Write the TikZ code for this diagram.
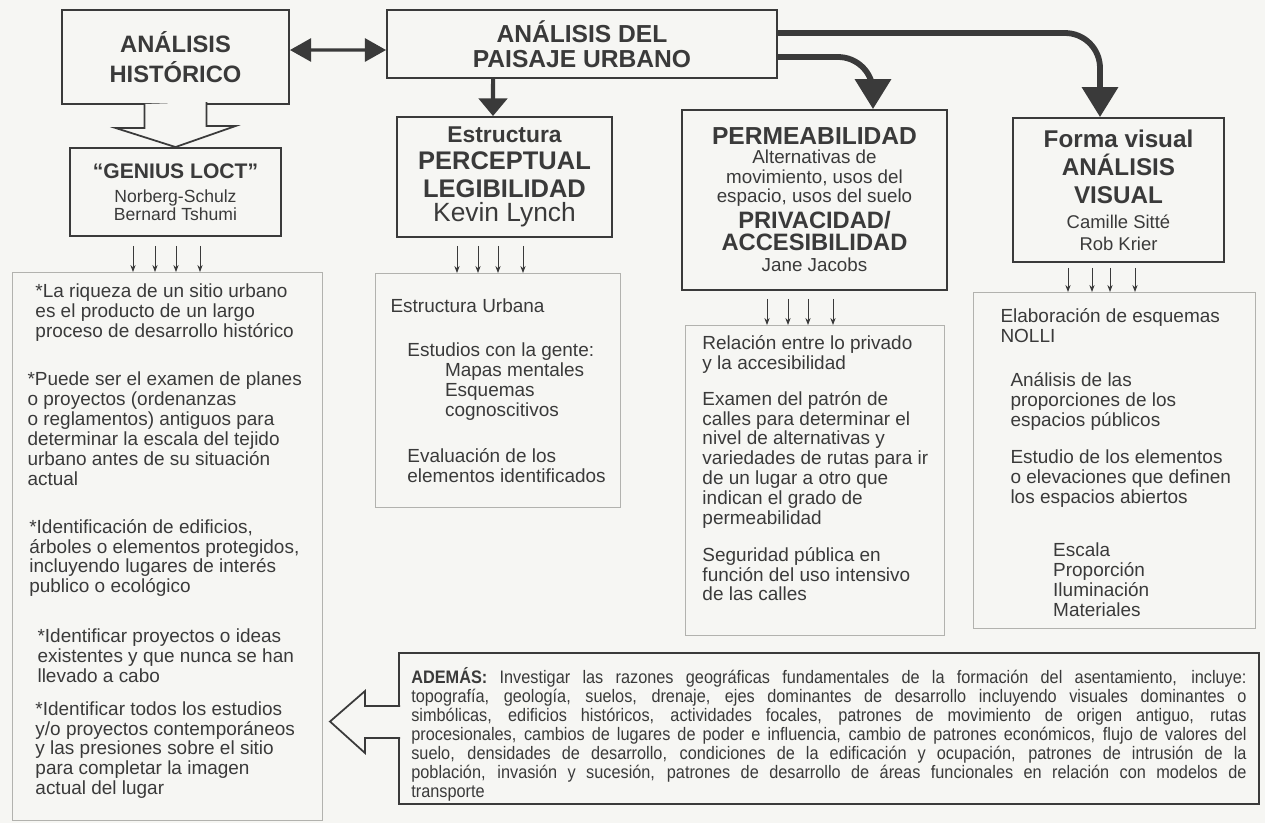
\documentclass[tikz,border=0pt]{standalone}
\usepackage{fontspec}
\setmainfont{Liberation Sans}
\newfontfamily\narrowfont[FakeStretch=0.9]{Liberation Sans}
\usetikzlibrary{arrows.meta}

\definecolor{ink}{HTML}{3A3A3A}
\definecolor{paper}{HTML}{F6F6F3}
\definecolor{faint}{HTML}{B2B2AE}

\newcommand{\detailfont}{\fontsize{10.8}{11.3}\selectfont}
% per line fonts (node lines reset the font at each \\)
\newcommand{\ttl}[1]{\fontsize{#1}{12}\selectfont\bfseries}
\newcommand{\sub}[1]{\fontsize{#1}{12}\selectfont\mdseries}

\begin{document}
\begin{tikzpicture}[x=0.02cm, y=-0.02cm, text=ink,
    smallarrow/.style={-{Stealth[length=4pt,width=3pt]}, draw=ink, line width=0.5pt},
    bigarrow/.style={-{Triangle[length=17pt,width=20pt]}, draw=ink, line width=3.3pt, rounded corners=0.7cm},
    hollowarrow/.style={draw=ink, line width=1pt, fill=paper, line join=miter}]

  \fill[paper] (0,0) rectangle (1265,823);
  \useasboundingbox (0,0) rectangle (1265,823);

  % main boxes
  \begin{scope}[every node/.style={draw=ink, line width=1.1pt, align=center, inner sep=0pt,
      font=\fontsize{10}{12}\selectfont}]
    \node[minimum width=4.54cm, minimum height=1.88cm] (historico) at (175.5,57)
      {\ttl{13.5}ANÁLISIS\\[4pt] \ttl{13.5}HISTÓRICO};
    \node[minimum width=7.8cm, minimum height=1.36cm] (paisaje) at (582,44)
      {\ttl{14}ANÁLISIS DEL\\[2.5pt] \ttl{14}PAISAJE URBANO};
    \node[minimum width=4.22cm, minimum height=1.76cm] (genius) at (175.5,192)
      {\ttl{12}“GENIUS LOCT”\\[2pt] \sub{10}Norberg-Schulz\\[-2pt] \sub{10}Bernard Tshumi};
    \node[minimum width=4.3cm, minimum height=2.4cm] (estructura) at (504.5,177)
      {\ttl{13}Estructura\\[3.3pt] \ttl{14.5}PERCEPTUAL\\[3.9pt] \ttl{14.5}LEGIBILIDAD\\[1.6pt]
       \sub{15}Kevin Lynch};
    \node[minimum width=5.3cm, minimum height=3.6cm] (perm) at (814.5,200)
      {\ttl{14}PERMEABILIDAD\\[-1.2pt] \sub{10.7}Alternativas de\\[-1pt] \sub{10.7}movimiento, usos del\\[-1pt]
       \sub{10.7}espacio, usos del suelo\\[2pt] \ttl{13.5}PRIVACIDAD/\\[0.5pt] \ttl{13.5}ACCESIBILIDAD\\
       \sub{10.7}Jane Jacobs};
    \node[minimum width=4.22cm, minimum height=2.88cm] (forma) at (1118.5,190)
      {\ttl{13.8}Forma visual\\[2.7pt] \ttl{13.8}ANÁLISIS\\[3.9pt] \ttl{13.8}VISUAL\\[2.2pt]
       \sub{10.5}Camille Sitté\\[0.5pt] \sub{10.5}Rob Krier};
  \end{scope}

  % detail boxes
  \begin{scope}[every node/.style={draw=faint, line width=0.7pt, anchor=north west, inner sep=0pt, font=\detailfont}]
    \node (histdet) at (12,272) {\parbox[c][10.96cm][t]{6.2cm}{\vspace*{6.2pt}\hspace*{8.5pt}%
      \begin{tabular}[t]{@{}l@{}}
        \hspace*{4.5pt}*La riqueza de un sitio urbano\\
        \hspace*{4.5pt}es el producto de un largo\\
        \hspace*{4.5pt}proceso de desarrollo histórico\\[16.4pt]
        *Puede ser el examen de planes\\
        o proyectos (ordenanzas\\
        o reglamentos) antiguos para\\
        determinar la escala del tejido\\
        urbano antes de su situación\\
        actual\\[15.9pt]
        \hspace*{1pt}*Identificación de edificios,\\
        \hspace*{1pt}árboles o elementos protegidos,\\
        \hspace*{1pt}incluyendo lugares de interés\\
        \hspace*{1pt}publico o ecológico\\[17pt]
        \hspace*{5.7pt}*Identificar proyectos o ideas\\
        \hspace*{5.7pt}existentes y que nunca se han\\
        \hspace*{5.7pt}llevado a cabo\\[7.4pt]
        \hspace*{4.5pt}*Identificar todos los estudios\\
        \hspace*{4.5pt}y/o proyectos contemporáneos\\
        \hspace*{4.5pt}y las presiones sobre el sitio\\
        \hspace*{4.5pt}para completar la imagen\\
        \hspace*{4.5pt}actual del lugar
      \end{tabular}}};
    \node (estdet) at (375,273) {\parbox[c][4.68cm][t]{4.9cm}{\vspace*{14pt}\hspace*{8.5pt}%
      \begin{tabular}[t]{@{}l@{}}
        Estructura Urbana\\[14pt]
        \hspace*{9.6pt}Estudios con la gente:\\
        \hspace*{31pt}Mapas mentales\\
        \hspace*{31pt}Esquemas\\
        \hspace*{31pt}cognoscitivos\\[15.3pt]
        \hspace*{9.6pt}Evaluación de los\\
        \hspace*{9.6pt}elementos identificados
      \end{tabular}}};
    \node (permdet) at (685,325) {\parbox[c][6.2cm][t]{5.18cm}{\vspace*{5.7pt}\hspace*{9.6pt}%
      \begin{tabular}[t]{@{}l@{}}
        Relación entre lo privado\\
        y la accesibilidad\\[9pt]
        Examen del patrón de\\
        calles para determinar el\\
        nivel de alternativas y\\
        variedades de rutas para ir\\
        de un lugar a otro que\\
        indican el grado de\\
        permeabilidad\\[9.6pt]
        Seguridad pública en\\
        función del uso intensivo\\
        de las calles
      \end{tabular}}};
    \node (formadet) at (973,292) {\parbox[c][6.72cm][t]{5.64cm}{\vspace*{9pt}\hspace*{15.3pt}%
      \begin{tabular}[t]{@{}l@{}}
        Elaboración de esquemas\\
        NOLLI\\[14pt]
        \hspace*{5.7pt}Análisis de las\\
        \hspace*{5.7pt}proporciones de los\\
        \hspace*{5.7pt}espacios públicos\\[10pt]
        \hspace*{5.7pt}Estudio de los elementos\\
        \hspace*{5.7pt}o elevaciones que definen\\
        \hspace*{5.7pt}los espacios abiertos\\[19pt]
        \hspace*{30pt}Escala\\
        \hspace*{30pt}Proporción\\
        \hspace*{30pt}Iluminación\\
        \hspace*{30pt}Materiales
      \end{tabular}}};
  \end{scope}

  \node[draw=ink, line width=1.2pt, anchor=north west, inner sep=0pt] (ademas) at (398,652)
    {\parbox[c][3.02cm][t]{17.2cm}{\narrowfont\fontsize{10.3}{10.8}\selectfont
      \leftskip=7pt \rightskip=7pt \tolerance=10000 \vspace*{8pt}%
      \textbf{ADEMÁS:} Investigar las razones geográficas fundamentales de la formación del asentamiento, incluye:\linebreak
      topografía, geología, suelos, drenaje, ejes dominantes de desarrollo incluyendo visuales dominantes o\linebreak
      simbólicas, edificios históricos, actividades focales, patrones de movimiento de origen antiguo, rutas\linebreak
      procesionales, cambios de lugares de poder e influencia, cambio de patrones económicos, flujo de valores del\linebreak
      suelo, densidades de desarrollo, condiciones de la edificación y ocupación, patrones de intrusión de la\linebreak
      población, invasión y sucesión, patrones de desarrollo de áreas funcionales en relación con modelos de\linebreak
      transporte}};

  \coordinate (ademastip) at (330,721.5);

  % connectors
  \draw[{Triangle[length=12pt,width=13pt]}-{Triangle[length=12pt,width=13pt]}, draw=ink, line width=1.8pt]
    ([yshift=0.14cm]historico.east) -- ([yshift=-0.12cm]paisaje.west);
  \draw[-{Triangle[length=10pt,width=16pt]}, draw=ink, line width=2.3pt]
    ([xshift=-1.78cm]paisaje.south) -- ([xshift=-0.23cm]estructura.north);
  \draw[bigarrow] ([yshift=0.22cm]paisaje.east) -| ([xshift=-0.37cm]forma.north);
  \draw[bigarrow] ([yshift=-0.26cm]paisaje.east) -| ([xshift=1.17cm]perm.north);

  % hollow arrows
  \draw[hollowarrow] ([xshift=-0.62cm,yshift=0.02cm]historico.south) -- ++(0,24) -- ++(-29,0)
    -- (genius.north) -- ++(60,-21) -- ++(-29,0) -- ++(0,-24);
  \draw[hollowarrow] ([xshift=0.04cm,yshift=0.45cm]ademas.west) -- ++(-35,0) -- ++(0,-15)
    -- (ademastip) -- ++(35,31.5) -- ++(0,-15) -- ++(35,0);

  % small arrows
  \foreach \dx in {-42.5,-20.5,0.5,24.5}
    \draw[smallarrow] ([xshift=\dx*0.02cm, yshift=-0.18cm]genius.south) -- ([xshift=\dx*0.02cm]genius.south |- histdet.north);
  \foreach \dx in {-47.5,-26.5,-6.5,18.5}
    \draw[smallarrow] ([xshift=\dx*0.02cm, yshift=-0.16cm]estructura.south) -- ([xshift=\dx*0.02cm]estructura.south |- estdet.north);
  \foreach \dx in {-47.5,-26.5,-6.5,18.5}
    \draw[smallarrow] ([xshift=\dx*0.02cm, yshift=-0.16cm]perm.south) -- ([xshift=\dx*0.02cm]perm.south |- permdet.north);
  \foreach \dx in {-50.5,-26.5,-8.5,16.5}
    \draw[smallarrow] ([xshift=\dx*0.02cm, yshift=-0.1cm]forma.south) -- ([xshift=\dx*0.02cm]forma.south |- formadet.north);

\end{tikzpicture}
\end{document}
